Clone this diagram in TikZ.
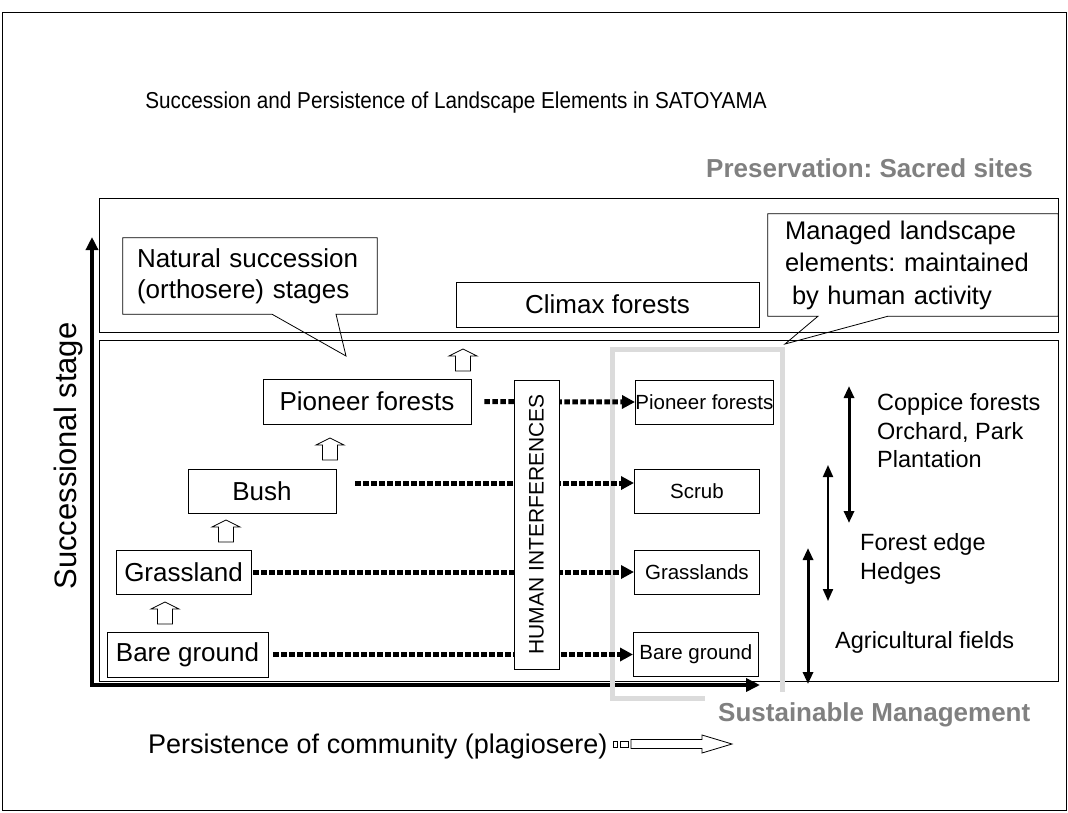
\documentclass[tikz,border=0pt]{standalone}
\usepackage{fontspec}
\setmainfont{Liberation Sans}
\newfontfamily\titlefont[FakeStretch=0.9]{Liberation Sans}
\usetikzlibrary{positioning, calc, arrows.meta}
\definecolor{zonegray}{gray}{0.86}
\definecolor{labelgray}{gray}{0.5}

\tikzset{
  stage/.style={draw, line width=0.8pt, fill=white, inner sep=0pt, font=\fontsize{26}{31}\selectfont},
  element/.style={draw, line width=0.8pt, fill=white, inner sep=0pt, anchor=west, minimum width=125pt, minimum height=44pt, font=\fontsize{20.5}{24}\selectfont},
  note/.style={align=left, anchor=west, inner sep=0pt, font=\fontsize{23.5}{28.5}\selectfont},
  heading/.style={text=labelgray, font=\fontsize{26}{30}\selectfont\bfseries},
  dotarrow/.style={line width=5pt, dash pattern=on 5.5pt off 2.5pt, -{Triangle[length=13pt,width=13pt]}},
  axis/.style={line width=4.5pt, {Triangle[length=13pt,width=12pt]}-{Triangle[length=14pt,width=13pt]}},
  span/.style={{Triangle[length=12pt,width=10pt]}-{Triangle[length=12pt,width=10pt]}},
  upstep/.pic={\draw[line width=0.8pt, fill=white] (-7.5,22)--(-7.5,7)--(-14,7)--(0,0)--(14,7)--(7.5,7)--(7.5,22)--cycle;}
}

\begin{document}
\frenchspacing
\begin{tikzpicture}[x=1pt, y=-1pt]
\useasboundingbox (0,0) rectangle (1068,812);
\draw[line width=0.8pt] (2,12) rectangle (1066,810);
\node[font=\titlefont\fontsize{23}{27}\selectfont] (title) at (456,103) {Succession and Persistence of Landscape Elements in SATOYAMA};
\node[heading, anchor=east, inner sep=0pt] (preserve) at (1033,168) {Preservation: Sacred sites};

% bands
\draw[line width=0.8pt] (99,198) rectangle (1058,332);
\draw[line width=0.8pt] (99,340) rectangle (1058,681);

% axes
\coordinate (ytop) at (92,237);
\coordinate (origin) at (92,685);
\coordinate (xend) at (760,685);
\draw[axis] (ytop) -- (origin) -- (xend);
\node[rotate=90, font=\fontsize{31}{36}\selectfont] (ylabel) at (68,456) {Successional stage};

% managed zone
\draw[zonegray, line width=5pt] (612,349) rectangle (782,698);

% natural stages
\node[stage, minimum width=303pt, minimum height=45pt] (climax) at (607.5,304.5) {Climax forests};
\node[stage, minimum width=208pt, minimum height=45pt] (pioneer) at (367,401.5) {Pioneer forests};
\node[stage, minimum width=148pt, minimum height=44pt] (bush) at (262,491) {Bush};
\node[stage, minimum width=135pt, minimum height=44pt] (grass) at (183.5,572) {Grassland};
\node[stage, minimum width=161pt, minimum height=45pt] (bare) at (187.5,654.5) {Bare ground};
\foreach \x/\y in {165/602, 226/520, 330/438, 463/349}
  \pic at (\x,\y) {upstep};

% managed elements
\node[element, minimum width=138pt] (mpioneer) at (635,402) {Pioneer forests};
\node[element] (scrub) at (634,491) {Scrub};
\node[element] (mgrass) at (634,572) {Grasslands};
\node[element] (mbare) at (633,654.5) {Bare ground};

\draw[dotarrow] ([xshift=13pt]pioneer.east) -- (mpioneer.west);
\draw[dotarrow] ([xshift=19pt,yshift=8pt]bush.east) -- ([yshift=8pt]scrub.west);
\draw[dotarrow] ([xshift=2pt]grass.east) -- (mgrass.west);
\draw[dotarrow] ([xshift=5pt]bare.east) -- (mbare.west);
\node[draw, line width=0.8pt, fill=white, rotate=90, inner sep=0pt, minimum width=289pt, minimum height=45pt, font=\fontsize{21}{25}\selectfont] (human) at (536.5,524.5) {HUMAN INTERFERENCES};

% callouts
\node[align=left, text width=226pt, inner xsep=14pt, inner ysep=0pt, minimum height=76pt, font=\fontsize{26}{31}\selectfont] (natural) at (250,276) {Natural succession\\(orthosere) stages};
\coordinate (natural tip) at (346,356);
\draw[line width=0.8pt] (natural.south west) -- (natural.north west) -- (natural.north east) -- (natural.south east)
  -- ([xshift=86pt]natural.south) -- (natural tip) -- ([xshift=22pt]natural.south) -- cycle;
\node[align=left, text width=256pt, inner xsep=17pt, inner ysep=0pt, minimum height=102pt, font=\fontsize{25.5}{32.5}\selectfont] (managed) at (913,265) {Managed landscape\\elements: maintained\\\hspace*{7pt}by human activity};
\coordinate (managed tip) at (785,344);
\draw[line width=0.8pt] (managed.south west) -- (managed.north west) -- (managed.north east) -- (managed.south east)
  -- ([xshift=-25pt]managed.south) -- (managed tip) -- ([xshift=-95pt]managed.south) -- cycle;

% ranges on the right
\coordinate (coppice top) at (849,386);
\coordinate (coppice end) at (849,523);
\coordinate (edge top) at (828,465);
\coordinate (edge end) at (828,601);
\coordinate (fields top) at (808,548);
\coordinate (fields end) at (808,684);
\draw[span, line width=3pt] (coppice top) -- (coppice end);
\draw[span, line width=2pt] (edge top) -- (edge end);
\draw[span, line width=3pt] (fields top) -- (fields end);
\node[note] (coppice) at (877,431) {Coppice forests\\Orchard, Park\\Plantation};
\node[note] (edge) at (860,559) {Forest edge\\Hedges};
\node[note] (fields) at (835,642) {Agricultural fields};

\node[heading, anchor=west, fill=white, inner xsep=13pt, minimum height=46pt] (sustain) at (705,715) {Sustainable Management};

% persistence
\node[anchor=west, inner sep=0pt, font=\fontsize{27}{32}\selectfont] (persist) at (148,747) {Persistence of community (plagiosere)};
\draw[line width=0.8pt] (613,741) rectangle (617,747) (620,741) rectangle (628,747);
\draw[line width=0.8pt, fill=white] (631,739.5) -- (702,739.5) -- (702,735) -- (732,744) -- (702,753) -- (702,748.5) -- (631,748.5) -- cycle;
\end{tikzpicture}
\end{document}
